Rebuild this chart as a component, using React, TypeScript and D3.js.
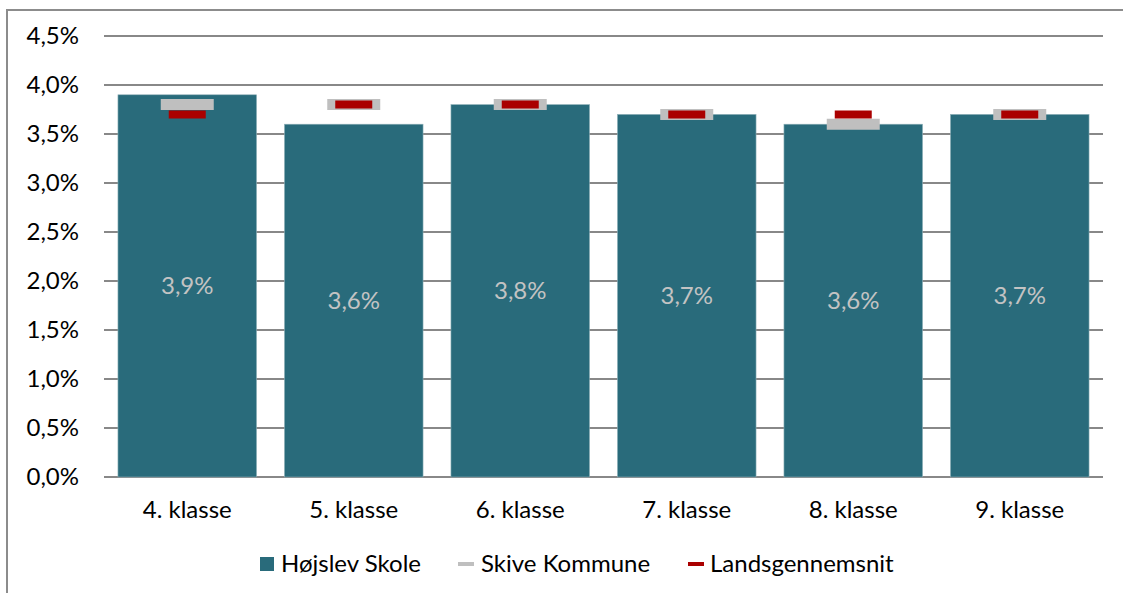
import React, { useEffect, useRef } from 'react';
import * as d3 from 'd3';

// values in percent
const categories = ['4. klasse', '5. klasse', '6. klasse', '7. klasse', '8. klasse', '9. klasse'];
const skoleValues = [3.9, 3.6, 3.8, 3.7, 3.6, 3.7];
const kommuneValues = [3.8, 3.8, 3.8, 3.7, 3.6, 3.7];
const landsValues = [3.7, 3.8, 3.8, 3.7, 3.7, 3.7];
const yTicks = [0, 0.5, 1, 1.5, 2, 2.5, 3, 3.5, 4, 4.5];
const seriesNames = ['Højslev Skole', 'Skive Kommune', 'Landsgennemsnit'];

const fmt = (v: number) => v.toFixed(1).replace('.', ',') + '%';

const App = () => {
    const svgRef = useRef<SVGSVGElement>(null);

    useEffect(() => {
        const width = 1123;
        const height = 593;
        const font = 'Lato, "Open Sans", sans-serif';
        const fontSize = 24;

        const svg = d3.select(svgRef.current);
        svg.selectAll('*').remove();
        svg.attr('width', width).attr('height', height);

        // chart frame (runs off the right and bottom edge)
        svg.append('rect')
            .attr('x', 7).attr('y', 10)
            .attr('width', 1130).attr('height', 600)
            .attr('fill', '#fff')
            .attr('stroke', '#8c8c8c')
            .attr('stroke-width', 2);

        const x = d3.scaleBand()
            .domain(categories)
            .range([104, 1103])
            .paddingInner(28 / 167)
            .paddingOuter(14 / 167);

        const y = d3.scaleLinear().domain([0, 4.5]).range([477, 36]);

        // gridlines
        svg.append('g')
            .selectAll('line')
            .data(yTicks)
            .join('line')
            .attr('x1', 104).attr('x2', 1103)
            .attr('y1', d => y(d)).attr('y2', d => y(d))
            .attr('stroke', '#888')
            .attr('stroke-width', 2);

        // y labels
        svg.append('g')
            .selectAll('text')
            .data(yTicks)
            .join('text')
            .attr('x', 79)
            .attr('y', d => y(d))
            .attr('dy', '0.35em')
            .attr('text-anchor', 'end')
            .attr('font-family', font)
            .attr('font-size', fontSize)
            .attr('fill', '#000')
            .text(d => fmt(d));

        // bars
        svg.append('g')
            .selectAll('rect')
            .data(skoleValues)
            .join('rect')
            .attr('x', (_, i) => x(categories[i])!)
            .attr('y', d => y(d))
            .attr('width', x.bandwidth())
            .attr('height', d => y(0) - y(d))
            .attr('fill', '#296b7b')
            .attr('stroke', '#8fb0b8')
            .attr('stroke-width', 0.6);

        // bar value labels
        svg.append('g')
            .selectAll('text')
            .data(skoleValues)
            .join('text')
            .attr('x', (_, i) => x(categories[i])! + x.bandwidth() / 2)
            .attr('y', d => (y(d) + y(0)) / 2)
            .attr('dy', '0.35em')
            .attr('text-anchor', 'middle')
            .attr('font-family', font)
            .attr('font-size', fontSize)
            .attr('fill', '#c3c3c3')
            .text(d => fmt(d));

        // kommune markers
        svg.append('g')
            .selectAll('line')
            .data(kommuneValues)
            .join('line')
            .attr('x1', (_, i) => x(categories[i])! + x.bandwidth() / 2 - 26.5)
            .attr('x2', (_, i) => x(categories[i])! + x.bandwidth() / 2 + 26.5)
            .attr('y1', d => y(d)).attr('y2', d => y(d))
            .attr('stroke', '#bfbfbf')
            .attr('stroke-width', 11);

        // landsgennemsnit markers
        svg.append('g')
            .selectAll('line')
            .data(landsValues)
            .join('line')
            .attr('x1', (_, i) => x(categories[i])! + x.bandwidth() / 2 - 18.5)
            .attr('x2', (_, i) => x(categories[i])! + x.bandwidth() / 2 + 18.5)
            .attr('y1', d => y(d)).attr('y2', d => y(d))
            .attr('stroke', '#aa0000')
            .attr('stroke-width', 8);

        // category labels
        svg.append('g')
            .selectAll('text')
            .data(categories)
            .join('text')
            .attr('x', d => x(d)! + x.bandwidth() / 2)
            .attr('y', 510)
            .attr('dy', '0.35em')
            .attr('text-anchor', 'middle')
            .attr('font-family', font)
            .attr('font-size', fontSize)
            .attr('fill', '#000')
            .text(d => d);

        // legend
        const legend = svg.append('g');
        const ly = 564;
        legend.append('rect')
            .attr('x', 260).attr('y', ly - 7)
            .attr('width', 14).attr('height', 14)
            .attr('fill', '#296b7b');
        legend.append('line')
            .attr('x1', 458).attr('x2', 474)
            .attr('y1', ly).attr('y2', ly)
            .attr('stroke', '#bfbfbf').attr('stroke-width', 4);
        legend.append('line')
            .attr('x1', 688).attr('x2', 704)
            .attr('y1', ly).attr('y2', ly)
            .attr('stroke', '#aa0000').attr('stroke-width', 4);
        const lx = [281, 481, 710];
        legend.selectAll('text')
            .data(seriesNames)
            .join('text')
            .attr('x', (_, i) => lx[i])
            .attr('y', ly)
            .attr('dy', '0.35em')
            .attr('font-family', font)
            .attr('font-size', fontSize)
            .attr('fill', '#000')
            .text(d => d);
    }, []);

    return (
        <div style={{ position: 'absolute', left: 0, top: 0 }}>
            <svg ref={svgRef} style={{ display: 'block' }}></svg>
        </div>
    );
};

export default App;
